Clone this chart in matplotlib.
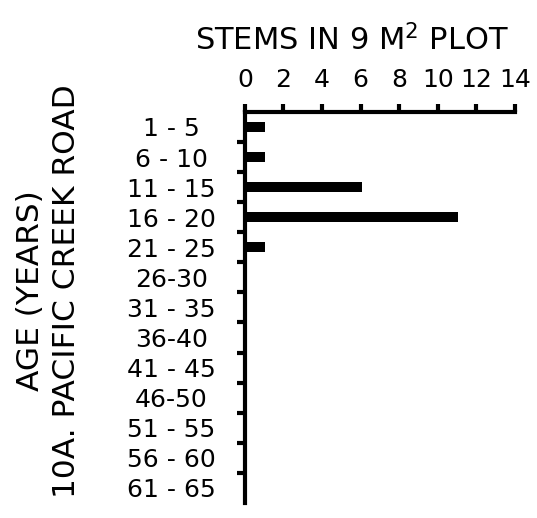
import matplotlib
matplotlib.use("Agg")
from matplotlib import pyplot as plt
import numpy as np

age_classes = [
    "1 - 5", "6 - 10", "11 - 15", "16 - 20", "21 - 25", "26-30", "31 - 35",
    "36-40", "41 - 45", "46-50", "51 - 55", "56 - 60", "61 - 65",
]
stems = [1, 1, 6, 11, 1, 0, 0, 0, 0, 0, 0, 0, 0]
x_ticks = [0, 2, 4, 6, 8, 10, 12, 14]

fig = plt.figure(figsize=(5.37, 5.18), dpi=100)
ax = fig.add_axes([0.456, 0.029, 0.503, 0.755])

y = np.arange(len(age_classes))
ax.barh(y, stems, height=0.33, color="black", left=0.05)

ax.set_xlim(0, 14)
ax.set_ylim(len(age_classes) - 0.5, -0.5)

for side in ["right", "bottom"]:
    ax.spines[side].set_visible(False)
for side in ["left", "top"]:
    ax.spines[side].set_linewidth(3)

# top axis
ax.xaxis.tick_top()
ax.set_xticks(x_ticks)
ax.set_xticklabels([str(v) for v in x_ticks])
ax.tick_params(axis="x", direction="out", length=6, width=3, pad=8,
               labelsize=18)

# left axis: labels at centres, ticks at class boundaries
ax.set_yticks(y)
ax.set_yticklabels(age_classes)
ax.set_yticks(np.arange(0.5, len(age_classes) - 1, 1), minor=True)
ax.tick_params(axis="y", which="major", length=0, pad=53, labelsize=18)
ax.tick_params(axis="y", which="minor", direction="out", length=6, width=3)
for lab in ax.get_yticklabels():
    lab.set_horizontalalignment("center")

fig.text(0.655, 0.922, r"STEMS IN 9 M$^2$ PLOT", ha="center", va="center",
         fontsize=22)
fig.text(0.056, 0.438, "AGE (YEARS)", rotation=90, ha="center",
         va="center", fontsize=22.5)
fig.text(0.124, 0.438, "10A. PACIFIC CREEK ROAD", rotation=90, ha="center",
         va="center", fontsize=22.5)

plt.savefig("out.png", dpi=100)
